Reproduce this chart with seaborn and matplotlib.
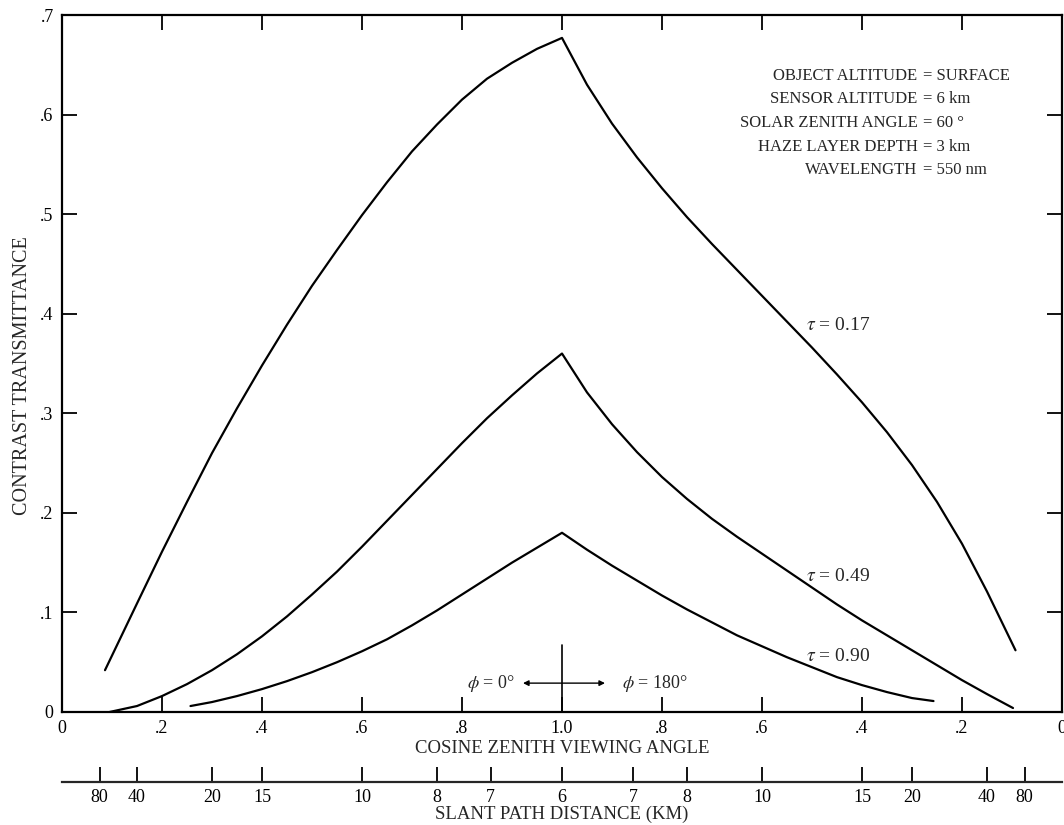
import numpy as np
import pandas as pd
import matplotlib
matplotlib.use("Agg")
import matplotlib.pyplot as plt
import seaborn as sns

# contrast transmittance
# phi = 0 deg branch: cosine rises towards nadir (1.0)
# phi = 180 deg branch: cosine falls away from nadir
cos_017_phi0 = [0.086, 0.15, 0.20, 0.25, 0.30, 0.35, 0.40, 0.45, 0.50, 0.55, 0.60, 0.65, 0.70, 0.75, 0.80, 0.85, 0.90, 0.95, 1.00]
ct_017_phi0 = [0.042, 0.109, 0.161, 0.211, 0.260, 0.305, 0.348, 0.389, 0.428, 0.464, 0.499, 0.532, 0.563, 0.590, 0.615, 0.636, 0.652, 0.666, 0.677]
cos_017_phi180 = [0.95, 0.90, 0.85, 0.80, 0.75, 0.70, 0.65, 0.60, 0.55, 0.50, 0.45, 0.40, 0.35, 0.30, 0.25, 0.20, 0.15, 0.093]
ct_017_phi180 = [0.630, 0.591, 0.557, 0.526, 0.497, 0.470, 0.444, 0.418, 0.392, 0.366, 0.339, 0.311, 0.281, 0.248, 0.211, 0.169, 0.121, 0.062]

cos_049_phi0 = [0.095, 0.15, 0.20, 0.25, 0.30, 0.35, 0.40, 0.45, 0.50, 0.55, 0.60, 0.65, 0.70, 0.75, 0.80, 0.85, 0.90, 0.95, 1.00]
ct_049_phi0 = [0.000, 0.006, 0.016, 0.028, 0.042, 0.058, 0.076, 0.096, 0.118, 0.141, 0.166, 0.192, 0.218, 0.244, 0.270, 0.295, 0.318, 0.340, 0.360]
cos_049_phi180 = [0.95, 0.90, 0.85, 0.80, 0.75, 0.70, 0.65, 0.60, 0.55, 0.50, 0.45, 0.40, 0.35, 0.30, 0.25, 0.20, 0.15, 0.098]
ct_049_phi180 = [0.321, 0.289, 0.261, 0.236, 0.214, 0.194, 0.176, 0.159, 0.142, 0.125, 0.108, 0.092, 0.077, 0.062, 0.047, 0.032, 0.018, 0.004]

cos_090_phi0 = [0.257, 0.30, 0.35, 0.40, 0.45, 0.50, 0.55, 0.60, 0.65, 0.70, 0.75, 0.80, 0.85, 0.90, 0.95, 1.00]
ct_090_phi0 = [0.006, 0.010, 0.016, 0.023, 0.031, 0.040, 0.050, 0.061, 0.073, 0.087, 0.102, 0.118, 0.134, 0.150, 0.165, 0.180]
cos_090_phi180 = [0.95, 0.90, 0.85, 0.80, 0.75, 0.70, 0.65, 0.60, 0.55, 0.50, 0.45, 0.40, 0.35, 0.30, 0.257]
ct_090_phi180 = [0.163, 0.147, 0.132, 0.117, 0.103, 0.090, 0.077, 0.066, 0.055, 0.045, 0.035, 0.027, 0.020, 0.014, 0.011]

taus = ["0.17", "0.49", "0.90"]
cos_ticks = [0, .2, .4, .6, .8, 1.0, .8, .6, .4, .2, 0]
cos_tick_labels = ["0", ".2", ".4", ".6", ".8", "1.0", ".8", ".6", ".4", ".2", "0"]
ct_ticks = [0, .1, .2, .3, .4, .5, .6, .7]
ct_tick_labels = ["0", ".1", ".2", ".3", ".4", ".5", ".6", ".7"]
slant_km = [80, 40, 20, 15, 10, 8, 7, 6]
sensor_alt = 6  # km, slant distance = altitude / cos

param_names = ["OBJECT ALTITUDE", "SENSOR ALTITUDE", "SOLAR ZENITH ANGLE", "HAZE LAYER DEPTH", "WAVELENGTH"]
param_values = ["SURFACE", "6 km", "60 °", "3 km", "550 nm"]

# one row per point; x position runs 0 -> 1 (phi=0) then 1 -> 2 (phi=180)
curves = {
    "0.17": (cos_017_phi0, ct_017_phi0, cos_017_phi180, ct_017_phi180),
    "0.49": (cos_049_phi0, ct_049_phi0, cos_049_phi180, ct_049_phi180),
    "0.90": (cos_090_phi0, ct_090_phi0, cos_090_phi180, ct_090_phi180),
}
rows = []
for tau in taus:
    c0, t0, c180, t180 = curves[tau]
    for c, t in zip(c0, t0):
        rows.append((tau, c, t))
    for c, t in zip(c180, t180):
        rows.append((tau, 2 - c, t))
df = pd.DataFrame(rows, columns=["tau", "pos", "ct"])

sns.set_theme(style="ticks")
plt.rcParams["font.family"] = ["Liberation Serif", "DejaVu Serif"]
plt.rcParams["mathtext.fontset"] = "stix"

fig = plt.figure(figsize=(10.64, 8.25), dpi=100)
ax = fig.add_axes([62 / 1064, 113 / 825, 1000 / 1064, 697 / 825])

sns.lineplot(data=df, x="pos", y="ct", units="tau", estimator=None, sort=False,
             color="black", linewidth=1.6, ax=ax)

ax.set_xlim(0, 2)
ax.set_ylim(0, 0.7)
xpos = [c if i <= 5 else 2 - c for i, c in enumerate(cos_ticks)]
ax.set_xticks(xpos, cos_tick_labels)
ax.set_yticks(ct_ticks, ct_tick_labels)
ax.tick_params(direction="in", length=11, width=1.3, top=True, right=True,
               labelsize=13, colors="black", pad=6)
for s in ax.spines.values():
    s.set_linewidth(1.6)
    s.set_color("black")
ax.set_xlabel("COSINE ZENITH VIEWING ANGLE", fontsize=13.5, labelpad=2)
ax.set_ylabel("CONTRAST TRANSMITTANCE", fontsize=14.5)
ax.yaxis.set_label_coords(-0.03, 0.482)

# slant path distance scale under the plot
slant_pos = [sensor_alt / d for d in slant_km] + [2 - sensor_alt / d for d in slant_km[-2::-1]]
slant_lbl = [str(d) for d in slant_km + slant_km[-2::-1]]
sec = ax.secondary_xaxis(-0.1)
sec.set_xticks(slant_pos, slant_lbl)
sec.tick_params(direction="in", length=11, width=1.3, labelsize=13, colors="black", pad=5)
sec.spines["bottom"].set_linewidth(1.6)
sec.set_xlabel("SLANT PATH DISTANCE (KM)", fontsize=13.5, labelpad=0)

# run conditions
for i, (n, v) in enumerate(zip(param_names, param_values)):
    y = 0.639 - i * 0.0237
    ax.text(1.711, y, n, ha="right", va="center", fontsize=12)
    ax.text(1.722, y, "= " + v, ha="left", va="center", fontsize=12)

# optical depth labels
for tau, y in zip(taus, [0.388, 0.136, 0.056]):
    ax.text(1.487, y, r"$\tau$ = " + tau, ha="left", va="center", fontsize=14)

# azimuth marker at nadir
ax.plot([1.0, 1.0], [0, 0.067], color="black", linewidth=1.2)
ax.annotate("", xy=(0.922, 0.029), xytext=(1.086, 0.029),
            arrowprops=dict(arrowstyle="<|-|>", color="black", lw=1.0,
                            mutation_scale=8, shrinkA=0, shrinkB=0))
ax.text(0.905, 0.029, r"$\phi$ = 0°", ha="right", va="center", fontsize=13)
ax.text(1.12, 0.029, r"$\phi$ = 180°", ha="left", va="center", fontsize=13)

fig.savefig("out.png", dpi=100)
